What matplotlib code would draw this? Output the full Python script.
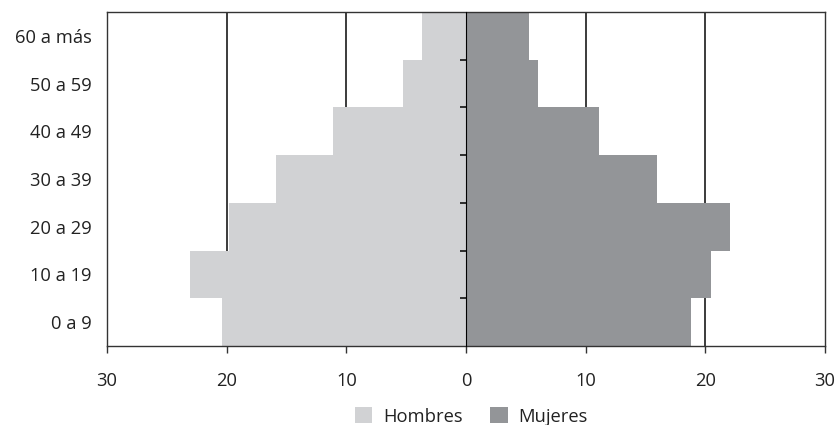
import numpy as np
import matplotlib.pyplot as plt

# grupos de edad (de abajo hacia arriba)
grupos = ['0 a 9', '10 a 19', '20 a 29', '30 a 39', '40 a 49', '50 a 59', '60 a más']
hombres = [20.4, 23.1, 19.8, 15.9, 11.1, 5.3, 3.7]
mujeres = [18.8, 20.5, 22.1, 16.0, 11.1, 6.0, 5.3]
xticks = [-30, -20, -10, 0, 10, 20, 30]
xlabels = ['30', '20', '10', '0', '10', '20', '30']

gris_claro = '#d1d2d4'
gris_osc = '#939598'

plt.rcParams['font.family'] = ['Open Sans', 'DejaVu Sans']
fs = 13.2

fig = plt.figure(figsize=(8.37, 4.25), dpi=100)
ax = fig.add_axes([0.1278, 0.186, 0.8579, 0.7858])

y = np.arange(len(grupos))
ax.barh(y, [-h for h in hombres], height=1.0, color=gris_claro, label='Hombres', zorder=2)
ax.barh(y, mujeres, height=1.0, color=gris_osc, label='Mujeres', zorder=2)

# lineas verticales de referencia
for v in [-20, -10, 10, 20]:
    ax.axvline(v, color='#1a1a1a', lw=1.2, zorder=1)

ax.set_xlim(-30, 30)
ax.set_ylim(-0.5, len(grupos) - 0.5)
ax.set_xticks(xticks)
ax.set_xticklabels(xlabels, fontsize=fs, color='#222222')
ax.tick_params(axis='x', direction='out', length=5, width=1, color='#333333', pad=14)

ax.set_yticks(y)
ax.set_yticklabels(grupos, fontsize=fs, color='#222222')
ax.tick_params(axis='y', length=0, pad=11)

for s in ax.spines.values():
    s.set_color('#333333')
    s.set_linewidth(1.0)
    s.set_zorder(3)

# eje central con marcas en los limites de cada grupo
sec = ax.secondary_yaxis(0.5)
sec.set_zorder(4)
sec.set_yticks(np.arange(len(grupos) - 1) + 0.5)
sec.set_yticklabels([])
sec.tick_params(direction='in', length=4, width=1.2, color='#111111')
sec.spines['left'].set_color('#222222')
sec.spines['left'].set_linewidth(1.0)

fig.legend(loc='lower center', bbox_to_anchor=(0.563, -0.04), ncol=2, frameon=False,
           fontsize=fs, handlelength=0.95, handleheight=0.95, handletextpad=0.6,
           columnspacing=1.5, labelcolor='#222222')

plt.savefig('out.png', dpi=100)
